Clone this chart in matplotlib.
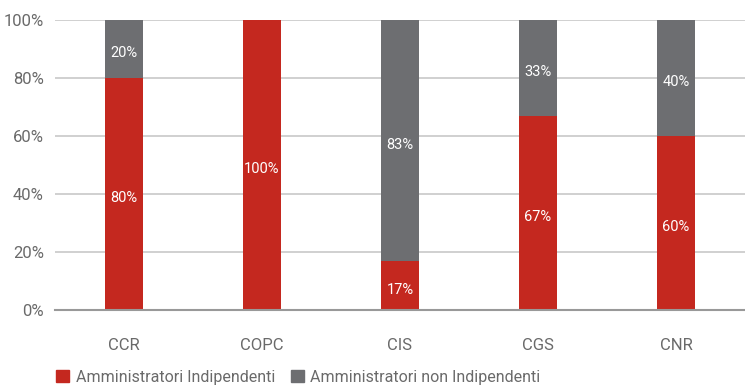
import matplotlib
matplotlib.use("Agg")
import matplotlib.pyplot as plt
from matplotlib.patches import Patch
from matplotlib.ticker import FuncFormatter

categories = ["CCR", "COPC", "CIS", "CGS", "CNR"]
indipendenti = [80, 100, 17, 67, 60]
non_indipendenti = [20, 0, 83, 33, 40]
series_names = ["Amministratori Indipendenti", "Amministratori non Indipendenti"]
yticks = [0, 20, 40, 60, 80, 100]

RED = "#C4281F"
GRAY = "#6D6E71"
TXT = "#6a6a6a"

plt.rcParams['font.family'] = ['Roboto', 'DejaVu Sans']

fig = plt.figure(figsize=(7.45, 3.85), dpi=100)
ax = fig.add_axes([55/745, 75/385, 690/745, 290/385])

x = list(range(len(categories)))
w = 0.275
ax.bar(x, indipendenti, width=w, color=RED, zorder=3)
ax.bar(x, non_indipendenti, width=w, bottom=indipendenti, color=GRAY, zorder=3)

for i in x:
    a = indipendenti[i]; b = non_indipendenti[i]
    if a > 0:
        ax.text(i, a / 2 - 1.5, f"{a}%", ha="center", va="center", color="white", fontsize=10.5, zorder=4)
    if b > 0:
        ax.text(i, a + b / 2 - 1.5, f"{b}%", ha="center", va="center", color="white", fontsize=10.5, zorder=4)

ax.set_xlim(-0.5, len(categories) - 0.5)
ax.set_ylim(0, 100)
ax.set_yticks(yticks)
ax.yaxis.set_major_formatter(FuncFormatter(lambda v, p: f"{int(v)}%"))
ax.set_xticks(x)
ax.set_xticklabels(categories)
ax.tick_params(axis="both", length=0, colors=TXT, labelsize=12)
ax.tick_params(axis="x", pad=20)
ax.tick_params(axis="y", pad=8)
ax.grid(axis="y", color="#c8c8c8", linewidth=1.2, zorder=0)
for s in ["top", "right", "left"]:
    ax.spines[s].set_visible(False)
ax.spines["bottom"].set_color("#999999")
ax.spines["bottom"].set_linewidth(1.5)
ax.spines["bottom"].set_zorder(5)

handles = [Patch(color=RED), Patch(color=GRAY)]
fig.legend(handles, series_names, loc="lower left", bbox_to_anchor=(42/745, -14/385),
           ncol=2, frameon=False, fontsize=11.5, labelcolor=TXT,
           handlelength=0.8, handleheight=0.8, handletextpad=0.4, columnspacing=1.0)

fig.savefig("out.png", dpi=100)
